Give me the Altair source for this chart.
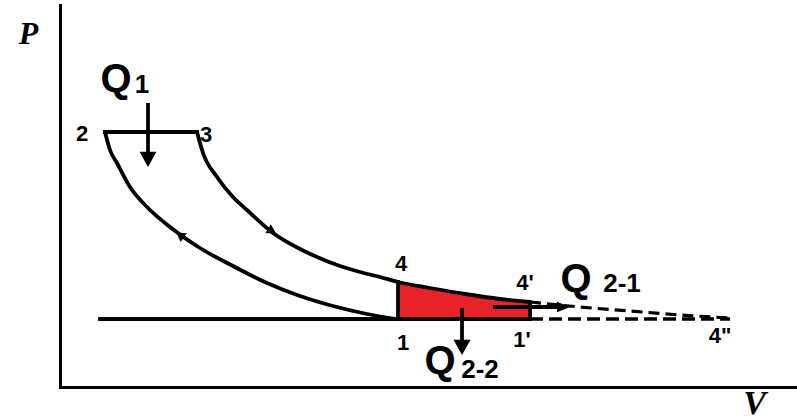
import altair as alt
import pandas as pd

# ---- cycle geometry, diagram units (V to the right, P upwards) ----
# compression 1 -> 2
comp_v = [33.5, 30.7, 27.3, 24.0, 20.7, 17.3, 14.0, 11.0, 8.7, 7.0, 5.7, 5.0, 4.5]
comp_p = [6.8, 7.3, 8.1, 9.1, 10.4, 12.1, 13.9, 16.0, 18.0, 20.0, 22.4, 23.7, 25.5]
# expansion 3 -> 4 -> 4'
exp_v = [13.7, 14.3, 15.7, 17.3, 18.7, 21.3, 24.0, 25.7, 28.0, 30.0, 32.0, 33.8,
         37.0, 40.5, 44.0, 47.0]
exp_p = [25.5, 23.4, 21.0, 19.0, 17.7, 15.4, 13.8, 13.0, 12.1, 11.5, 11.0, 10.5,
         9.9, 9.3, 8.8, 8.5]
# prolonged expansion 4' -> 4''
ext_v = [47.0, 52.0, 57.0, 62.0, 67.0]
ext_p = [8.5, 8.0, 7.6, 7.2, 6.9]

p_low = 6.8      # isobar 1 - 1' - 4''
p_high = 25.5    # isobar 2 - 3
v_start = 4.0    # left end of the low isobar
v_1 = 33.8       # state 1 / 4
v_1p = 47.0      # state 1' / 4'
v_4pp = 67.0     # state 4''

# straight segments: v, p, v2, p2
solid_seg = {
    "v":  [4.5, v_start, v_1, v_1p],
    "p":  [p_high, p_low, 10.5, 8.5],
    "v2": [13.7, v_1p, v_1, v_1p],
    "p2": [p_high, p_low, p_low, p_low],
}
dashed_seg = {"v": [v_1p], "p": [p_low], "v2": [v_4pp], "p2": [p_low]}

# heat arrows: shaft from (v, p) to (v2, p2)
shaft = {
    "v":  [8.8, 40.2, 43.3],
    "p":  [28.4, 7.9, 8.0],
    "v2": [8.8, 40.2, 50.0],
    "p2": [23.0, 4.0, 8.0],
}
head_down = {"v": [8.8, 40.2], "p": [22.0, 3.2]}
head_right = {"v": [51.0], "p": [8.0]}

# direction marks on the curves
flow_v = [12.0, 21.2]
flow_p = [15.2, 15.6]
flow_angle = [305, 121]

# state labels
state_text = ["2", "3", "4", "4'", "1", "1'", "4\""]
state_v = [2.2, 14.6, 34.1, 46.5, 34.3, 46.2, 66.0]
state_p = [25.3, 25.2, 12.3, 10.4, 4.4, 4.7, 5.1]

# heat labels (baseline positions)
q_v = [5.6, 38.0, 51.6]
q_p = [29.5, 1.3, 9.5]
sub_text = ["1", "2-2", "2-1"]
sub_v = [8.2, 42.0, 56.2]
sub_p = [29.4, 0.9, 9.5]

# ---- scales and axes ----
xs = alt.Scale(domain=[0, 73.7], nice=False, zero=False)
ys = alt.Scale(domain=[0, 38.2], nice=False, zero=False)
x_axis = alt.Axis(
    title="V", domain=True, domainColor="black", domainWidth=3, domainCap="square",
    ticks=False, labels=False, grid=False,
    titleAngle=0, titleX=694, titleY=26, titleAlign="center", titleBaseline="alphabetic",
    titleFont="Liberation Serif", titleFontStyle="italic", titleFontWeight="bold",
    titleFontSize=34, titleColor="black",
)
y_axis = alt.Axis(
    title="P", domain=True, domainColor="black", domainWidth=3, domainCap="square",
    ticks=False, labels=False, grid=False,
    titleAngle=0, titleX=-32, titleY=38, titleAlign="center", titleBaseline="alphabetic",
    titleFont="Liberation Serif", titleFontStyle="italic", titleFontWeight="bold",
    titleFontSize=32, titleColor="black",
)


def X(field):
    return alt.X(field, type="quantitative", scale=xs, axis=x_axis)


def Y(field):
    return alt.Y(field, type="quantitative", scale=ys, axis=y_axis)


black = "black"
lw = 3.8

heat_df = pd.DataFrame({"v": exp_v, "p": exp_p})
heat_df = heat_df[heat_df["v"] >= v_1].assign(base=p_low)

rejected = alt.Chart(heat_df).mark_area(color="#e6232a", opacity=1, interpolate="monotone").encode(
    x=X("v"), y=Y("p"), y2="base"
)

compression = alt.Chart(pd.DataFrame({"v": comp_v, "p": comp_p})).mark_line(
    color=black, strokeWidth=lw, interpolate="monotone"
).encode(x=X("v"), y=Y("p"), order="v:Q")

expansion = alt.Chart(pd.DataFrame({"v": exp_v, "p": exp_p})).mark_line(
    color=black, strokeWidth=lw, interpolate="monotone"
).encode(x=X("v"), y=Y("p"), order="v:Q")

extension = alt.Chart(pd.DataFrame({"v": ext_v, "p": ext_p})).mark_line(
    color=black, strokeWidth=3.2, strokeDash=[11, 6], interpolate="monotone"
).encode(x=X("v"), y=Y("p"))

solid_lines = alt.Chart(pd.DataFrame(solid_seg)).mark_rule(
    color=black, strokeWidth=lw, strokeCap="square"
).encode(x=X("v"), y=Y("p"), x2="v2", y2="p2")

dashed_lines = alt.Chart(pd.DataFrame(dashed_seg)).mark_rule(
    color=black, strokeWidth=3.4, strokeDash=[13, 6]
).encode(x=X("v"), y=Y("p"), x2="v2", y2="p2")

shafts = alt.Chart(pd.DataFrame(shaft)).mark_rule(
    color=black, strokeWidth=3.8
).encode(x=X("v"), y=Y("p"), x2="v2", y2="p2")

heads_down = alt.Chart(pd.DataFrame(head_down)).mark_point(
    shape="M-1,-1.8L1,-1.8L0,0Z", filled=True, size=289, color=black, opacity=1
).encode(x=X("v"), y=Y("p"))

heads_right = alt.Chart(pd.DataFrame(head_right)).mark_point(
    shape="M-2,-0.8L0,0L-2,0.8Z", filled=True, size=169, color=black, opacity=1
).encode(x=X("v"), y=Y("p"))

flow = alt.Chart(pd.DataFrame({"v": flow_v, "p": flow_p, "a": flow_angle})).mark_point(
    shape="triangle-up", filled=True, size=110, color=black, opacity=1
).encode(x=X("v"), y=Y("p"), angle=alt.Angle("a:Q", scale=None))

states = alt.Chart(pd.DataFrame({"t": state_text, "v": state_v, "p": state_p})).mark_text(
    font="Liberation Sans", fontWeight="bold", fontSize=22, color=black,
    align="center", baseline="middle"
).encode(x=X("v"), y=Y("p"), text="t:N")

q_labels = alt.Chart(pd.DataFrame({"t": ["Q"] * 3, "v": q_v, "p": q_p})).mark_text(
    font="Liberation Sans", fontWeight="bold", fontSize=40, color=black,
    align="center", baseline="alphabetic"
).encode(x=X("v"), y=Y("p"), text="t:N")

q_subs = alt.Chart(pd.DataFrame({"t": sub_text, "v": sub_v, "p": sub_p})).mark_text(
    font="Liberation Sans", fontWeight="bold", fontSize=26, color=black,
    align="center", baseline="alphabetic"
).encode(x=X("v"), y=Y("p"), text="t:N")

chart = alt.layer(
    rejected, compression, expansion, extension, solid_lines, dashed_lines,
    shafts, heads_down, heads_right, flow, states, q_labels, q_subs,
).properties(
    width=737, height=382,
    autosize=alt.AutoSizeParams(type="none"),
    padding={"left": 60, "top": 5, "right": 0, "bottom": 33},
    background="white",
).configure_view(stroke=None)

chart.save("out.html", embed_options={"renderer": "svg", "actions": False})
